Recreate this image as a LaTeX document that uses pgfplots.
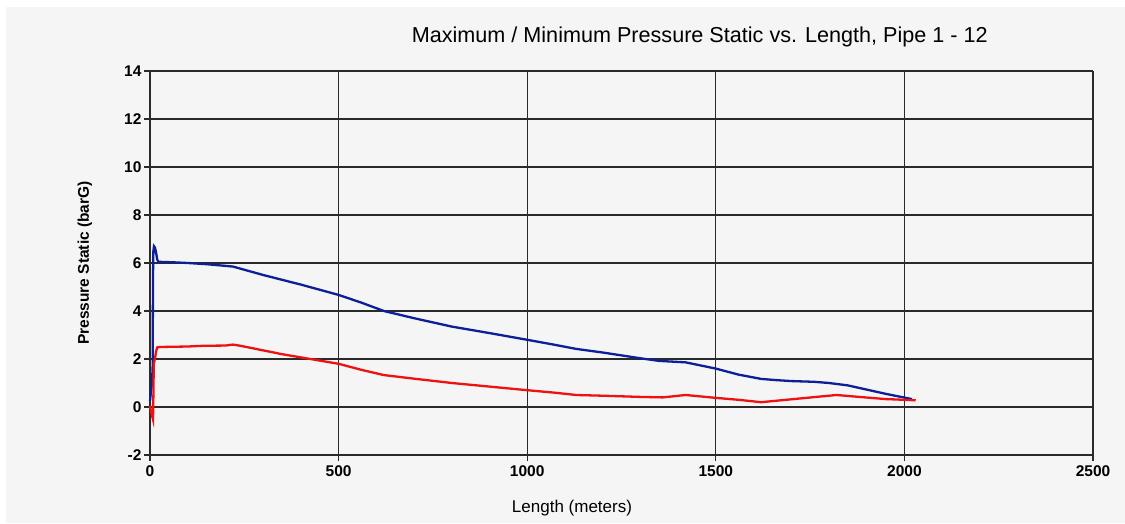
\documentclass[border=0pt]{standalone}
\usepackage{fontspec}
\setmainfont{Liberation Sans}
\usepackage{pgfplots}
\pgfplotsset{compat=1.18}
\definecolor{bgpanel}{HTML}{F5F5F5}
\definecolor{gridc}{HTML}{2A2A2A}
\definecolor{maxblue}{HTML}{0C1E98}
\definecolor{minred}{HTML}{EE1111}
\begin{document}
\begin{tikzpicture}[x=1bp,y=1bp]
\fill[white] (0,0) rectangle (1125,524);
\fill[bgpanel] (6,1) rectangle (1125,517);
\begin{axis}[
  at={(150bp,69bp)}, anchor=south west,
  scale only axis, width=943bp, height=384bp,
  xmin=0, xmax=2500, ymin=-2, ymax=14,
  xtick={0,500,1000,1500,2000,2500},
  ytick={-2,0,2,4,6,8,10,12,14},
  grid=major,
  major grid style={gridc, line width=1.1bp},
  axis line style={gridc, line width=1.1bp},
  tick style={gridc, line width=1.1bp},
  tick align=outside,
  major tick length=6bp,
  axis x line*=bottom, axis y line*=left,
  ticklabel style={font=\fontsize{15.5bp}{17bp}\selectfont\bfseries},
  /pgf/number format/assume math mode=true,
  /pgf/number format/1000 sep={},
  yticklabel style={xshift=1bp},
  xticklabel style={yshift=-1bp},
  clip=false,
]
\addplot[maxblue, line width=2.3bp] coordinates {
(0,0.25) (3,0.7) (5,1.0) (7,1.6) (8,5.5) (9,6.5) (10.5,6.7) (13,6.65) (16,6.45) (19,6.15) (22,6.05)
(60,6.03) (100,6.0) (150,5.95) (200,5.88) (220,5.85) (300,5.5) (400,5.1) (500,4.67)
(560,4.35) (620,4.0) (700,3.7) (800,3.35) (900,3.08) (1000,2.8) (1070,2.6) (1130,2.42)
(1200,2.27) (1300,2.03) (1350,1.92) (1420,1.86) (1500,1.6) (1560,1.35) (1620,1.17)
(1660,1.12) (1700,1.08) (1760,1.05) (1800,1.0) (1850,0.9) (1950,0.55) (2020,0.33)
};
\addplot[minred, line width=2.3bp] coordinates {
(0,0.05) (3,-0.2) (6,-0.4) (8,-0.52) (9,0.5) (10,1.8) (13,2.0) (16,2.3) (19,2.48) (25,2.5)
(100,2.52) (140,2.55) (200,2.56) (220,2.6) (240,2.55) (350,2.2) (500,1.8) (560,1.55)
(620,1.33) (700,1.18) (800,1.0) (900,0.85) (1000,0.7) (1070,0.6) (1130,0.5) (1200,0.47)
(1300,0.42) (1360,0.4) (1420,0.5) (1500,0.38) (1560,0.3) (1620,0.2) (1700,0.32)
(1820,0.5) (1880,0.42) (1950,0.33) (2030,0.28)
};
\node[font=\fontsize{21.6bp}{24bp}\selectfont, anchor=center] at (axis description cs:0.583,1.088) {Maximum / Minimum Pressure Static vs. Length, Pipe 1 - 12};
\node[font=\fontsize{17bp}{20bp}\selectfont, anchor=center] at (axis description cs:0.4475,-0.138) {Length (meters)};
\node[font=\fontsize{15.5bp}{18bp}\selectfont\bfseries, anchor=center, rotate=90] at (axis description cs:-0.069,0.5) {Pressure Static (barG)};
\end{axis}
\end{tikzpicture}
\end{document}
